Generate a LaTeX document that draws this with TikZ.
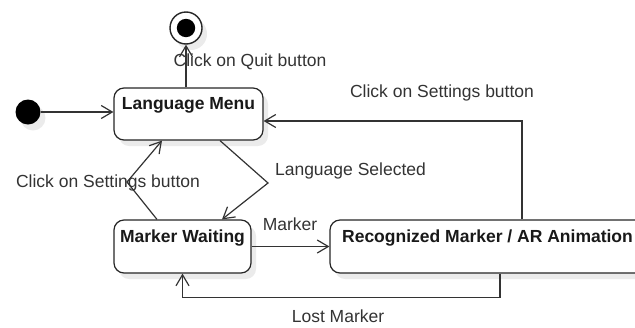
\documentclass[tikz,border=0pt]{standalone}
\usepackage{fontspec}
\setmainfont{Liberation Sans}
\usetikzlibrary{arrows.meta,calc,shadows}

\newcommand\diagfont{\fontsize{8.75pt}{10pt}\selectfont}

\begin{document}
\begin{tikzpicture}[x=0.5pt,y=-0.5pt,font=\diagfont,text=black!80,
  shade/.style={drop shadow={shadow xshift=2.5pt,shadow yshift=-3pt,fill=black!8,opacity=1}},
  state/.style={draw=black!85,fill=white,line width=0.6pt,rounded corners=5pt,shade},
  title/.style={anchor=north,yshift=-1.5pt,font=\diagfont\bfseries,text=black!90},
  arr/.style={draw=black!80,line width=0.6pt,-{Straight Barb[length=5.5pt,width=6.5pt]}}]
  \useasboundingbox (0,0) rectangle (635,327);
  \clip (0,0) rectangle (635,327);

  % start and end points
  \node[circle,fill=black,minimum size=12.5pt,inner sep=0pt,shade] (init) at (28,112) {};
  \node[circle,draw=black!85,fill=white,line width=0.7pt,minimum size=16pt,inner sep=0pt,shade] (final) at (186,28) {};
  \fill[black] (final.center) circle (4.6pt);

  % states
  \node[state,minimum width=74.5pt,minimum height=26pt,label={[title]north:Language Menu}] (menu) at (188.5,114) {};
  \node[state,minimum width=68.5pt,minimum height=26.5pt,label={[title]north:Marker Waiting}] (wait) at (182.5,246.5) {};
  \node[state,minimum width=157.5pt,minimum height=26.5pt,label={[title]north:Recognized Marker / AR Animation}] (reco) at (487.5,246.5) {};

  % transitions
  \draw[arr] (init) -- (menu.west |- init);

  \draw[arr] (menu.north -| final) -- (final);
  \node (quitlbl) at (250,62) {Click on Quit button};

  \coordinate (selbend) at (268,183);
  \draw[arr] ($(menu.south)+(31.5,0)$) -- (selbend) -- ($(wait.north)+(39.5,0)$);
  \node[anchor=west] (sellbl) at (268,171) {Language Selected};

  \coordinate (setbend) at (127,182);
  \draw[arr] ($(wait.north)+(-25.5,0)$) -- (setbend) -- ($(menu.south)+(-26.5,0)$);
  \node (setlbl) at (108,183) {Click on Settings button};

  \draw[arr] ($(reco.north)+(34.5,0)$) |- ($(menu.east)+(0,7)$);
  \node (backlbl) at (442,93) {Click on Settings button};

  \draw[arr] (wait.east) -- (reco.west);
  \node (markerlbl) at (290,224) {Marker};

  \draw[arr] ($(reco.south)+(12.5,0)$) -- ++(0,24) -| (wait.south);
  \node (lostlbl) at (338,316) {Lost Marker};
\end{tikzpicture}
\end{document}
